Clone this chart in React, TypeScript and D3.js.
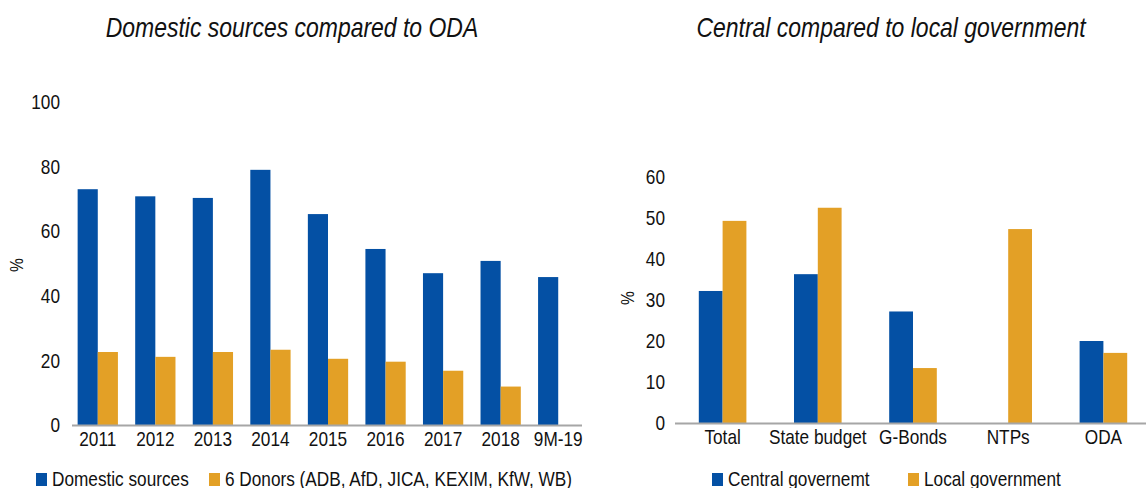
import React, { useEffect, useRef } from 'react';
import * as d3 from 'd3';

// Left chart: domestic sources vs ODA donors (% share)
const years = ['2011', '2012', '2013', '2014', '2015', '2016', '2017', '2018', '9M-19'];
const domesticSources = [73, 70.8, 70.3, 79, 65.3, 54.5, 47, 50.8, 45.8];
const sixDonors = [22.6, 21.1, 22.6, 23.3, 20.5, 19.6, 16.8, 11.9, null];
const leftTicks = [0, 20, 40, 60, 80, 100];

// Right chart: central vs local government (% share)
const sources = ['Total', 'State budget', 'G-Bonds', 'NTPs', 'ODA'];
const centralGov = [32.2, 36.3, 27.2, null, 20];
const localGov = [49.3, 52.5, 13.4, 47.3, 17.1];
const rightTicks = [0, 10, 20, 30, 40, 50, 60];

const BLUE = '#0450a4';
const ORANGE = '#e3a026';
const FONT = "'Liberation Sans', Arial, sans-serif";
// no narrow font installed, so squeeze the text horizontally
const NARROW = 0.82;

const App = () => {
  const svgRef = useRef(null);

  useEffect(() => {
    const svg = d3.select(svgRef.current);
    svg.selectAll('*').remove();
    svg.style('font-family', FONT);

    const narrowText = (sel, x, y, size, anchor, txt, italic = false) => {
      sel.append('text')
        .attr('transform', `translate(${x},${y}) scale(${NARROW},1)`)
        .attr('text-anchor', anchor)
        .style('font-size', `${size}px`)
        .style('font-style', italic ? 'italic' : 'normal')
        .attr('fill', '#111')
        .text(txt);
    };

    const drawPanel = (opts) => {
      const { cats, s1, s2, ticks, yRange, yDomain, xRange, padIn, padOut, axisX, title, titleX, pctX, pctY, tickRight, legend } = opts;

      const x = d3.scaleBand().domain(cats).range(xRange).paddingInner(padIn).paddingOuter(padOut);
      const y = d3.scaleLinear().domain(yDomain).range(yRange);
      const half = x.bandwidth() / 2;

      const g = svg.append('g');

      // title
      narrowText(g, titleX, 37, 28, 'middle', title, true);

      // y axis (labels only)
      const yAxis = g.append('g')
        .attr('transform', `translate(${tickRight},0)`)
        .call(d3.axisLeft(y).tickValues(ticks).tickSize(0).tickPadding(0));
      yAxis.select('.domain').remove();
      yAxis.selectAll('text')
        .attr('x', 0)
        .attr('transform', `scale(${NARROW},1)`)
        .style('font-size', '21px')
        .style('font-family', FONT)
        .attr('fill', '#111');

      // % label
      g.append('text')
        .attr('transform', `translate(${pctX},${pctY}) rotate(-90) scale(${NARROW},1)`)
        .attr('text-anchor', 'middle')
        .style('font-size', '19px')
        .attr('fill', '#111')
        .text('%');

      // bars
      const series = [
        { vals: s1, color: BLUE, off: 0 },
        { vals: s2, color: ORANGE, off: half }
      ];
      series.forEach(s => {
        g.selectAll(null)
          .data(cats.map((c, i) => ({ c, v: s.vals[i] })).filter(d => d.v != null))
          .enter()
          .append('rect')
          .attr('x', d => x(d.c) + s.off)
          .attr('width', half)
          .attr('y', d => y(d.v))
          .attr('height', d => y(0) - y(d.v))
          .attr('fill', s.color);
      });

      // x axis
      const xAxis = g.append('g')
        .attr('transform', `translate(0,${y(0)})`)
        .call(d3.axisBottom(x).tickSize(0).tickPadding(6));
      xAxis.select('.domain').remove();
      xAxis.selectAll('text')
        .attr('transform', `scale(${NARROW},1)`)
        .style('font-size', '21px')
        .style('font-family', FONT)
        .attr('fill', '#111');
      g.append('line')
        .attr('x1', axisX[0])
        .attr('x2', axisX[1])
        .attr('y1', y(0) + 0.5)
        .attr('y2', y(0) + 0.5)
        .attr('stroke', '#a6a6a6')
        .attr('stroke-width', 2);

      // legend
      legend.forEach(l => {
        g.append('rect')
          .attr('x', l.x)
          .attr('y', 473)
          .attr('width', 11)
          .attr('height', 13)
          .attr('fill', l.color);
        narrowText(g, l.x + 16, 486, 21, 'start', l.label);
      });
    };

    drawPanel({
      cats: years,
      s1: domesticSources,
      s2: sixDonors,
      ticks: leftTicks,
      yDomain: [0, 100],
      yRange: [425, 102],
      xRange: [69, 587],
      padIn: 0.3,
      padOut: 0.15,
      axisX: [72, 582],
      title: 'Domestic sources compared to ODA',
      titleX: 292,
      pctX: 23,
      pctY: 265,
      tickRight: 60,
      legend: [
        { x: 36, color: BLUE, label: 'Domestic sources' },
        { x: 209, color: ORANGE, label: '6 Donors (ADB, AfD, JICA, KEXIM, KfW, WB)' }
      ]
    });

    drawPanel({
      cats: sources,
      s1: centralGov,
      s2: localGov,
      ticks: rightTicks,
      yDomain: [0, 60],
      yRange: [423, 177],
      xRange: [675, 1151],
      padIn: 0.5,
      padOut: 0.25,
      axisX: [675, 1146],
      title: 'Central compared to local government',
      titleX: 891,
      pctX: 634,
      pctY: 298,
      tickRight: 665,
      legend: [
        { x: 712, color: BLUE, label: 'Central governemt' },
        { x: 908, color: ORANGE, label: 'Local government' }
      ]
    });
  }, []);

  return (
    <svg
      ref={svgRef}
      width={1146}
      height={488}
      style={{ position: 'absolute', left: 0, top: 0, background: '#fff' }}
    />
  );
};

export default App;
